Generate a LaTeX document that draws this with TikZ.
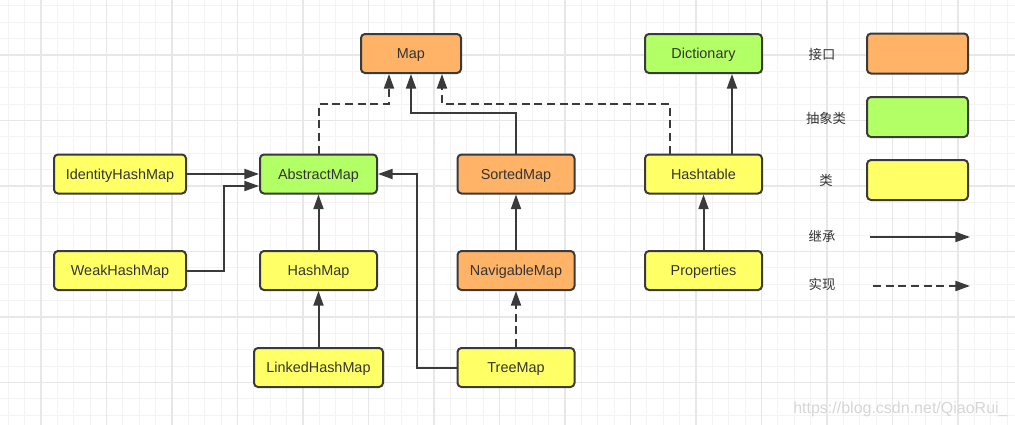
\documentclass[tikz,border=0pt]{standalone}
\usepackage{fontspec}
\setmainfont{Liberation Sans}
\newfontfamily\cjk{Noto Sans CJK SC}
\usetikzlibrary{arrows.meta}
\definecolor{orangef}{HTML}{FFB366}
\definecolor{greenf}{HTML}{B3FF66}
\definecolor{yellowf}{HTML}{FFFF66}
\definecolor{edgec}{HTML}{3A3A3A}
\definecolor{txt}{HTML}{333333}
\definecolor{gridminor}{HTML}{F3F3F3}
\definecolor{gridmajor}{HTML}{E7E7E7}
\definecolor{wmark}{HTML}{D6D6D6}
\begin{document}
\begin{tikzpicture}[x=0.75pt,y=-0.75pt,
  box/.style={draw=edgec, line width=1.5pt, rounded corners=3pt, minimum width=87.75pt, minimum height=29.25pt, inner sep=0pt, text height=7.8pt, text depth=0pt, font=\fontsize{10.8}{12}\selectfont, text=txt},
  iface/.style={box, fill=orangef},
  abst/.style={box, fill=greenf},
  cls/.style={box, fill=yellowf},
  inh/.style={draw=edgec, line width=1.5pt, -{Triangle[length=11pt,width=7.5pt]}},
  impl/.style={inh, dash pattern=on 6pt off 3.5pt},
  lbl/.style={font=\cjk\fontsize{10}{12}\selectfont, text=txt}]
\useasboundingbox (0,0) rectangle (1015,425);
\fill[white] (0,0) rectangle (1015,425);
% grid
\foreach \k in {0,...,61} \draw[gridminor, line width=0.7pt] ({8.25+16.375*\k},0) -- ({8.25+16.375*\k},425);
\foreach \k in {0,...,25} \draw[gridminor, line width=0.7pt] (0,{5.875+16.375*\k}) -- (1015,{5.875+16.375*\k});
\foreach \k in {0,...,14} \draw[gridmajor, line width=0.8pt] ({41+65.5*\k},0) -- ({41+65.5*\k},425);
\foreach \k in {0,...,5} \draw[gridmajor, line width=0.8pt] (0,{55+65.5*\k}) -- (1015,{55+65.5*\k});
% nodes
\node[iface, minimum width=75pt] (map) at (411,53.5) {Map};
\node[abst] (dict) at (703.5,53.5) {Dictionary};
\node[cls, minimum width=99pt] (ihm) at (120,174) {IdentityHashMap};
\node[abst] (am) at (318.5,174) {AbstractMap};
\node[iface] (sm) at (516,174) {SortedMap};
\node[cls] (ht) at (703.5,174) {Hashtable};
\node[cls, minimum width=99pt] (whm) at (120,270.5) {WeakHashMap};
\node[cls] (hm) at (318.5,270.5) {HashMap};
\node[iface] (nm) at (516,270.5) {NavigableMap};
\node[cls] (pr) at (703.5,270.5) {Properties};
\node[cls, minimum width=96.75pt] (lhm) at (318.5,367.5) {LinkedHashMap};
\node[cls] (tm) at (516,367.5) {TreeMap};
% legend
\node[iface, minimum width=75.75pt, minimum height=30pt] (lg1) at (917.5,53.5) {};
\node[abst, minimum width=75.75pt, minimum height=30pt] (lg2) at (917.5,117) {};
\node[cls, minimum width=75.75pt, minimum height=30pt] (lg3) at (917.5,180) {};
\node[lbl] (l1) at (822,54) {接口};
\node[lbl] (l2) at (826,118) {抽象类};
\node[lbl] (l3) at (826,180) {类};
\node[lbl] (l4) at (822,236) {继承};
\node[lbl] (l5) at (822,284) {实现};
\coordinate (a1) at (870,237);
\coordinate (a2) at (970,237);
\coordinate (b1) at (873,286);
\coordinate (b2) at (970,286);
\draw[inh] (a1) -- (a2);
\draw[impl] (b1) -- (b2);
% helper coordinates
\coordinate (m1) at (389,104);
\coordinate (m2) at (411,113);
\coordinate (m3) at (442,104);
\coordinate (h1) at (670,174);
\coordinate (h2) at (732,174);
\coordinate (w1) at (224,186);
\coordinate (t1) at (417,174);
% connectors
\draw[impl] (am.north) |- (m1) -- (m1 |- map.south);
\draw[inh] (sm.north) |- (m2) -- (map.south);
\draw[impl] (h1 |- ht.north) |- (m3) -- (m3 |- map.south);
\draw[inh] (h2 |- ht.north) -- (h2 |- dict.south);
\draw[inh] (pr.north) -- (ht.south);
\draw[inh] (ihm.east) -- (am.west);
\draw[inh] (whm.east) -| (w1) -- (w1 -| am.west);
\draw[inh] (hm.north) -- (am.south);
\draw[inh] (lhm.north) -- (hm.south);
\draw[inh] (tm.west) -| (t1) -- (am.east);
\draw[inh] (nm.north) -- (sm.south);
\draw[impl] (tm.north) -- (nm.south);
% watermark
\node[anchor=base west, text=wmark, font=\fontsize{12}{14}\selectfont, inner sep=0pt] (wm) at (793,413) {https://blog.csdn.net/QiaoRui\_};
\end{tikzpicture}
\end{document}
